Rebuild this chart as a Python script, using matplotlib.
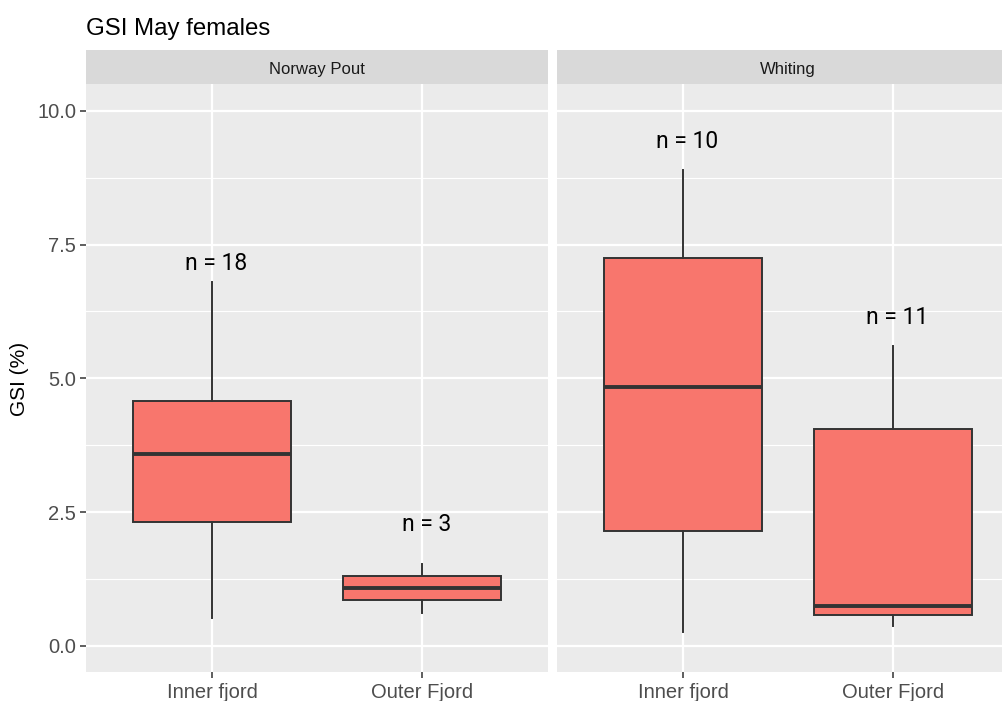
import matplotlib
matplotlib.use("Agg")
import matplotlib.pyplot as plt

# ---- data ----
facets = ["Norway Pout", "Whiting"]
categories = ["Inner fjord", "Outer Fjord"]
# per facet: [whislo, q1, med, q3, whishi] for each category
stats_pout = [[0.52, 2.32, 3.59, 4.58, 6.80],
              [0.62, 0.86, 1.08, 1.31, 1.53]]
stats_whiting = [[0.26, 2.15, 4.84, 7.25, 8.90],
                 [0.37, 0.58, 0.75, 4.06, 5.61]]
n_pout = [18, 3]
n_whiting = [10, 11]
label_y_pout = [7.14, 2.26]
label_y_whiting = [9.42, 6.13]
yticks = [0.0, 2.5, 5.0, 7.5, 10.0]
yminor = [1.25, 3.75, 6.25, 8.75]

W, H = 1003, 701
fig = plt.figure(figsize=(W / 100, H / 100), dpi=100)
fig.patch.set_facecolor("white")

axfont = "Liberation Sans"
panel_left = [86, 557]
panel_w = 462
panel_top, panel_bot = 84, 672
strip_top = 50

all_stats = [stats_pout, stats_whiting]
all_n = [n_pout, n_whiting]
all_ly = [label_y_pout, label_y_whiting]

for i, facet in enumerate(facets):
    ax = fig.add_axes([panel_left[i] / W, 1 - panel_bot / H,
                       panel_w / W, (panel_bot - panel_top) / H])
    ax.set_facecolor("#EBEBEB")
    ax.set_xlim(0.4, 2.6)
    ax.set_ylim(-0.49, 10.5)
    for s in ax.spines.values():
        s.set_visible(False)
    ax.set_axisbelow(True)
    for y in yminor:
        ax.axhline(y, color="white", lw=0.8, zorder=0)
    for y in yticks:
        ax.axhline(y, color="white", lw=1.6, zorder=0)
    for x in [1, 2]:
        ax.axvline(x, color="white", lw=1.6, zorder=0)

    bxp = []
    for st in all_stats[i]:
        bxp.append(dict(whislo=st[0], q1=st[1], med=st[2], q3=st[3], whishi=st[4], fliers=[]))
    ax.bxp(bxp, positions=[1, 2], widths=0.75, patch_artist=True, showcaps=False,
           boxprops=dict(facecolor="#F8766D", edgecolor="#333333", linewidth=1.4),
           medianprops=dict(color="#333333", linewidth=2.8),
           whiskerprops=dict(color="#333333", linewidth=1.4),
           manage_ticks=False, zorder=2)

    for j, (n, ly) in enumerate(zip(all_n[i], all_ly[i])):
        ax.text(j + 1 + 0.02, ly, f"n = {n}", ha="center", va="center",
                fontsize=16.5, family="Roboto", color="black", zorder=3)

    ax.set_xticks([1, 2])
    ax.set_xticklabels(categories, fontsize=14.5, family=axfont, color="#4D4D4D")
    ax.tick_params(axis="x", length=4, width=1.1, color="#333333", pad=4)
    if i == 0:
        ax.set_yticks(yticks)
        ax.set_yticklabels([f"{v:.1f}" for v in yticks], fontsize=14.5,
                           family=axfont, color="#4D4D4D")
        ax.tick_params(axis="y", length=4, width=1.1, color="#333333", pad=3)
    else:
        ax.set_yticks([])

    # strip
    sax = fig.add_axes([panel_left[i] / W, 1 - panel_top / H,
                        panel_w / W, (panel_top - strip_top) / H])
    sax.set_facecolor("#D9D9D9")
    sax.set_xticks([]); sax.set_yticks([])
    for s in sax.spines.values():
        s.set_visible(False)
    sax.text(0.5, 0.42, facet, ha="center", va="center", fontsize=12,
             family=axfont, color="#1A1A1A", transform=sax.transAxes)

fig.text(20 / W, 1 - 379 / H, "GSI (%)", rotation=90, ha="center", va="center",
         fontsize=15, family=axfont, color="black")
fig.text(86 / W, 1 - 29 / H, "GSI May females", ha="left", va="center",
         fontsize=17.3, family=axfont, color="black")

fig.savefig("out.png", dpi=100)
